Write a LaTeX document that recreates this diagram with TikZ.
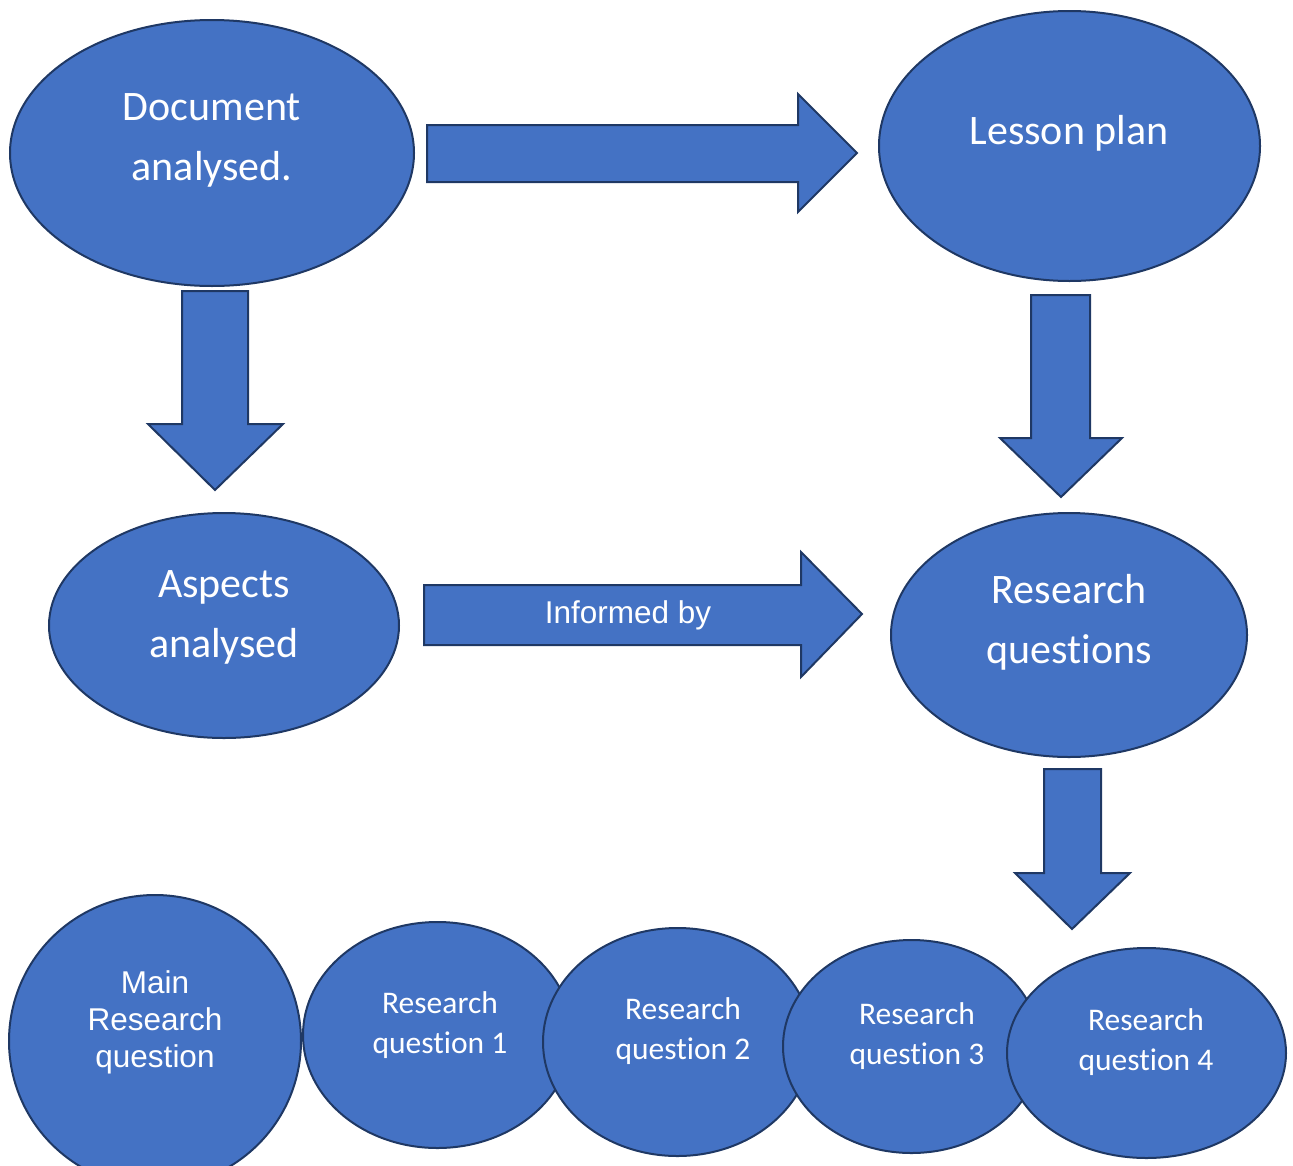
\documentclass[tikz,border=0pt]{standalone}
\usepackage{fontspec}
\setmainfont{Carlito}[Ligatures=NoCommon]
\newfontfamily\arialfont{Liberation Sans}
\usetikzlibrary{shapes.geometric}

\definecolor{bubblefill}{HTML}{4472C4}
\definecolor{bubbleline}{HTML}{1F3864}

\tikzset{
  bubble/.style 2 args={ellipse, draw=bubbleline, fill=bubblefill, line width=2pt,
    inner sep=0pt, minimum width=#1pt, minimum height=#2pt},
  bigtext/.style={text=white, align=center, font=\fontsize{42}{60}\selectfont},
  smalltext/.style={text=white, align=center, font=\fontsize{31.5}{40}\selectfont},
  ariatext/.style={text=white, align=center, font=\arialfont\fontsize{31.5}{37}\selectfont},
  blockarrow/.style={draw=bubbleline, fill=bubblefill, line width=2pt, line join=miter}
}

\begin{document}
\begin{tikzpicture}[x=1pt, y=-1pt]
\useasboundingbox (0,0) rectangle (1293,1165);

% Top and middle ellipses
\node[bubble={404}{266}] (doc) at (212,153) {};
\node[bubble={381}{270}] (lesson) at (1069.5,146) {};
\node[bubble={350}{225}] (aspects) at (224,625.5) {};
\node[bubble={356}{244}] (rq) at (1069,635) {};

% Block arrows
\draw[blockarrow] (427,125) -- (798,125) -- (798,94) -- (857,153) -- (798,212) -- (798,182) -- (427,182) -- cycle;
\draw[blockarrow] (182,291) -- (248,291) -- (248,424) -- (283,424) -- (215,490) -- (148,424) -- (182,424) -- cycle;
\draw[blockarrow] (1031,295) -- (1090,295) -- (1090,438) -- (1122,438) -- (1061,497) -- (1000,438) -- (1031,438) -- cycle;
\draw[blockarrow] (424,585) -- (801,585) -- (801,552) -- (862,614) -- (801,677) -- (801,645) -- (424,645) -- cycle;
\draw[blockarrow] (1044,769) -- (1101,769) -- (1101,873) -- (1130,873) -- (1072,929) -- (1015,873) -- (1044,873) -- cycle;

% Bottom row, drawn left to right so each overlaps the previous
\node[bubble={292}{292}] (mainrq) at (155,1041) {};
\node[bubble={269}{226}] (rqone) at (437.5,1035) {};
\node[bubble={269}{228}] (rqtwo) at (677.5,1042) {};
\node[bubble={257}{213}] (rqthree) at (911.5,1046.5) {};
\node[bubble={279}{210}] (rqfour) at (1146.5,1053) {};

% Labels
\node[bigtext] (doclabel) at (212,140) {Document\\analysed.};
\node[bigtext] (lessonlabel) at (1069,133) {Lesson plan};
\node[bigtext] (aspectslabel) at (224,617) {Aspects\\analysed};
\node[bigtext] (rqlabel) at (1069,622) {Research\\questions};
\node[ariatext] (informed) at (628,615) {Informed by};
\node[ariatext] (mainlabel) at (155,1022) {Main\\Research\\question};
\node[smalltext] (rqonelabel) at (440,1025) {Research\\question 1};
\node[smalltext] (rqtwolabel) at (683,1031) {Research\\question 2};
\node[smalltext] (rqthreelabel) at (917,1036) {Research\\question 3};
\node[smalltext] (rqfourlabel) at (1146,1042) {Research\\question 4};
\end{tikzpicture}
\end{document}
